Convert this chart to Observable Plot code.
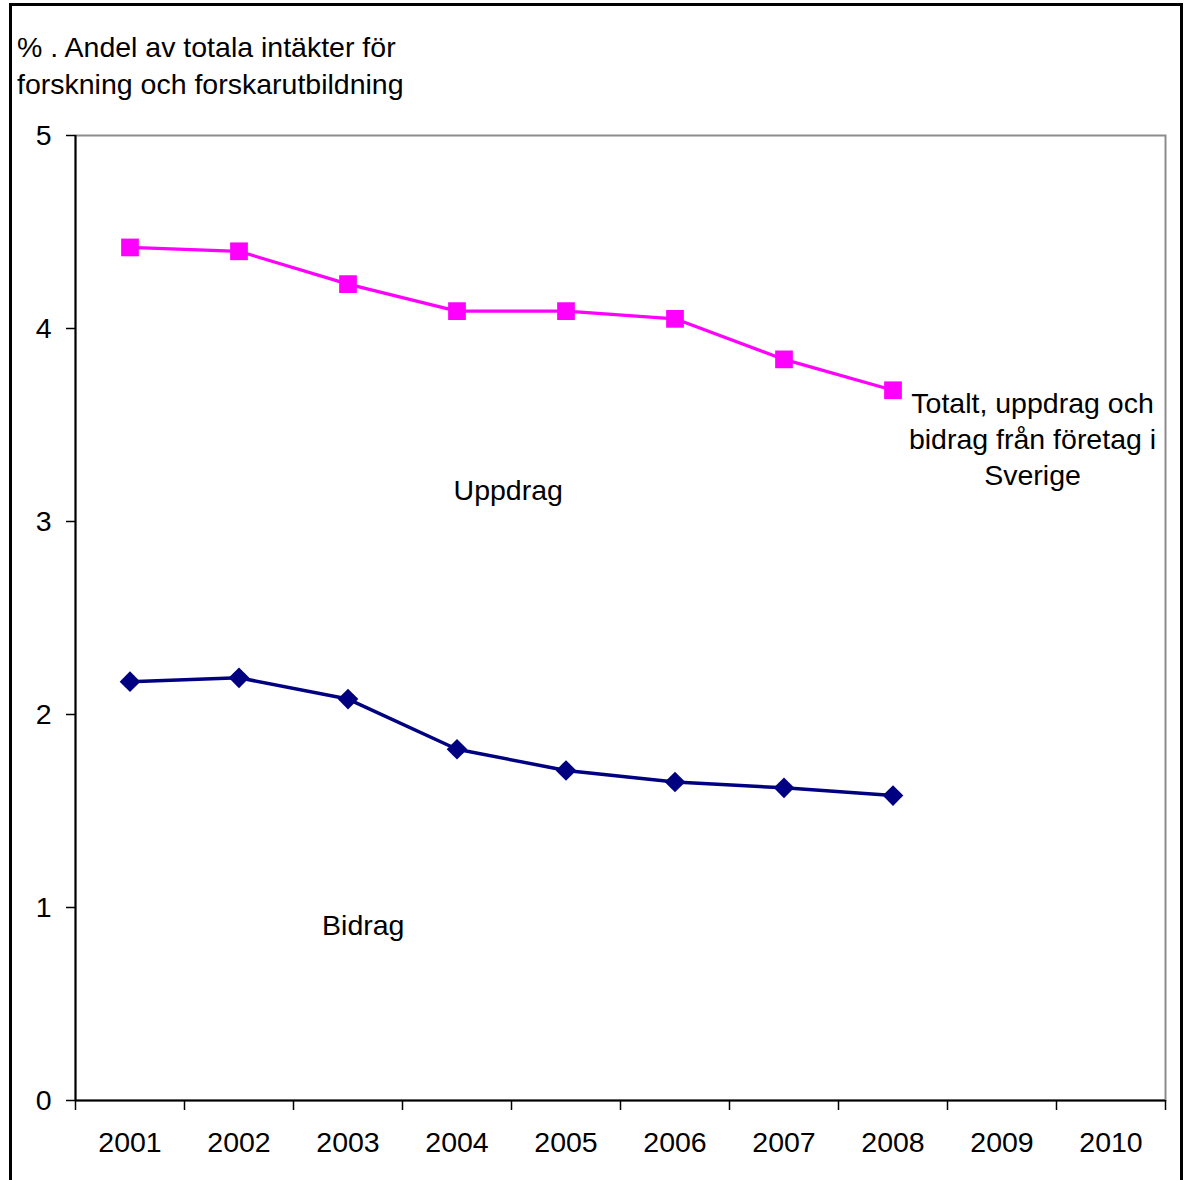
<!DOCTYPE html>
<html>
<head>
<meta charset="utf-8">
<script src="https://cdn.jsdelivr.net/npm/d3@7"></script>
<script src="https://cdn.jsdelivr.net/npm/@observablehq/plot@0.6"></script>
<style>
  html, body { margin: 0; padding: 0; background: #fff; }
  #wrap { position: relative; width: 1189px; height: 1180px; overflow: hidden; font-family: "Liberation Sans", Arial, sans-serif; }
  #border { position: absolute; left: 9px; top: 3px; width: 1174px; height: 1220px; border: 3px solid #000; box-sizing: border-box; }
  #title { position: absolute; left: 17px; top: 29px; font-size: 28.5px; line-height: 37px; color: #000; }
  #chart { position: absolute; left: 0; top: 0; }
</style>
</head>
<body>
<div id="wrap">
  <div id="border"></div>
  <div id="chart"></div>
  <div id="title">% . Andel av totala intäkter för<br>forskning och forskarutbildning</div>
</div>
<script>
const years = [2001, 2002, 2003, 2004, 2005, 2006, 2007, 2008];
const axisYears = [2001, 2002, 2003, 2004, 2005, 2006, 2007, 2008, 2009, 2010];
const totalt = [4.42, 4.40, 4.23, 4.09, 4.09, 4.05, 3.84, 3.68];
const bidrag = [2.17, 2.19, 2.08, 1.82, 1.71, 1.65, 1.62, 1.58];
const yTicks = [0, 1, 2, 3, 4, 5];
const labels = [
  {x: 2004.47, y: 3.17, text: "Uppdrag"},
  {x: 2003.14, y: 0.915, text: "Bidrag"},
  {x: 2009.28, y: 3.435, text: "Totalt, uppdrag och\nbidrag från företag i\nSverige"}
];

const totData = years.map((d, i) => ({year: d, value: totalt[i]}));
const bidData = years.map((d, i) => ({year: d, value: bidrag[i]}));
const bounds = [axisYears[0] - 0.5, ...axisYears.map(d => d + 0.5)];

const plot = Plot.plot({
  width: 1189,
  height: 1180,
  marginLeft: 75,
  marginRight: 24,
  marginTop: 135,
  marginBottom: 80,
  style: {fontFamily: "'Liberation Sans', Arial, sans-serif", fontSize: "28.5px", color: "#000", background: "transparent"},
  x: {type: "linear", domain: [bounds[0], bounds[bounds.length - 1]]},
  y: {domain: [0, 5]},
  marks: [
    Plot.frame({stroke: "#8c8c8c", strokeWidth: 2}),
    Plot.axisY({ticks: yTicks, tickSize: 9, tickPadding: 15, fontSize: 28.5, tickFormat: d => String(d), label: null, strokeWidth: 1.5, stroke: "#000"}),
    Plot.axisX({ticks: bounds, tickSize: 10, tickFormat: () => "", label: null, strokeWidth: 1.5, stroke: "#000"}),
    Plot.axisX({ticks: axisYears, tickSize: 0, tickPadding: 31, tickFormat: d => String(d), fontSize: 28.5, label: null}),
    Plot.ruleY([0], {stroke: "#000", strokeWidth: 2}),
    Plot.ruleX([bounds[0]], {stroke: "#000", strokeWidth: 2}),
    Plot.line(totData, {x: "year", y: "value", stroke: "#ff00ff", strokeWidth: 3.2}),
    Plot.dot(totData, {x: "year", y: "value", symbol: "square", r: 10, fill: "#ff00ff", stroke: "none"}),
    Plot.line(bidData, {x: "year", y: "value", stroke: "#000080", strokeWidth: 3.5}),
    Plot.dot(bidData, {x: "year", y: "value", symbol: "diamond2", r: 9.3, fill: "#000080", stroke: "none"}),
    Plot.text(labels, {x: "x", y: "y", text: "text", fontSize: 28.5, lineHeight: 1.27, fill: "#000", textAnchor: "middle"})
  ]
});
document.getElementById("chart").appendChild(plot);
</script>
</body>
</html>
